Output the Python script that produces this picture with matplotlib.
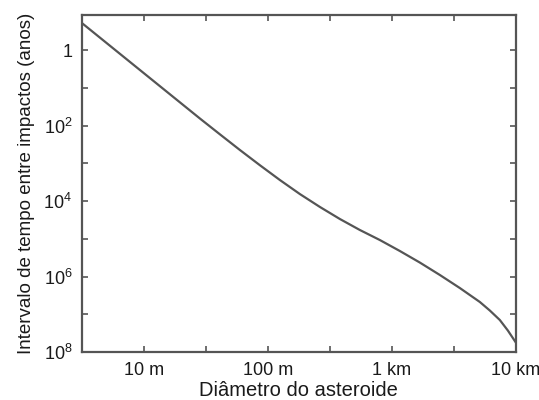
import matplotlib
matplotlib.use("Agg")
import matplotlib.pyplot as plt
from matplotlib.ticker import FixedLocator, NullFormatter, FixedFormatter

plt.rcParams['font.family'] = ['Liberation Sans', 'DejaVu Sans']
plt.rcParams['mathtext.fontset'] = 'custom'
plt.rcParams['mathtext.rm'] = 'Liberation Sans'
plt.rcParams['mathtext.it'] = 'Liberation Sans'

# Data (diameter in metres, interval in years)
diameter_m = [3.16, 9.29, 28.3, 41.0, 59.5, 86.2, 125, 181, 263, 381, 552,
              800, 1160, 1680, 2440, 3535, 5125, 6170, 7430, 8620, 10000]
interval_yr = [0.193, 3.39, 65.3, 171, 446, 1127, 2780, 6530, 1.44e4, 3.0e4, 5.86e4,
               1.08e5, 2.11e5, 4.26e5, 9.12e5, 2.02e6, 4.73e6, 7.96e6, 1.42e7, 2.69e7, 5.6e7]

x_ticks = [10, 100, 1000, 10000]
x_tick_labels = ["10 m", "100 m", "1 km", "10 km"]
x_minor = [31.6, 316, 3160]
y_ticks = [1, 1e2, 1e4, 1e6, 1e8]
y_tick_labels = ["1", r"$10^{2}$", r"$10^{4}$", r"$10^{6}$", r"$10^{8}$"]
y_minor = [10, 1e3, 1e5, 1e7]

gray = "#555555"
txt = "#1a1a1a"

fig = plt.figure(figsize=(5.39, 4.0), dpi=100)
ax = fig.add_axes([0.152, 0.12, 0.805, 0.8425])
ax.plot(diameter_m, interval_yr, color=gray, lw=1.6, solid_joinstyle='round')
ax.set_xscale('log')
ax.set_yscale('log')
ax.set_xlim(3.16, 10000)
ax.set_ylim(1e8, 0.118)

ax.xaxis.set_major_locator(FixedLocator(x_ticks))
ax.xaxis.set_major_formatter(FixedFormatter(x_tick_labels))
ax.xaxis.set_minor_locator(FixedLocator(x_minor))
ax.xaxis.set_minor_formatter(NullFormatter())
ax.yaxis.set_major_locator(FixedLocator(y_ticks))
ax.yaxis.set_major_formatter(FixedFormatter(y_tick_labels))
ax.yaxis.set_minor_locator(FixedLocator(y_minor))
ax.yaxis.set_minor_formatter(NullFormatter())

ax.tick_params(which='both', direction='in', top=True, right=True, length=4,
               width=1.2, color=gray, labelcolor=txt, labelsize=13, pad=7)
for s in ax.spines.values():
    s.set_color(gray)
    s.set_linewidth(1.6)

ax.set_xlabel("Diâmetro do asteroide", fontsize=14.5, color=txt, labelpad=2)
ax.set_ylabel("Intervalo de tempo entre impactos (anos)", fontsize=13.5, color=txt, labelpad=6)

fig.savefig("out.png", dpi=100)
